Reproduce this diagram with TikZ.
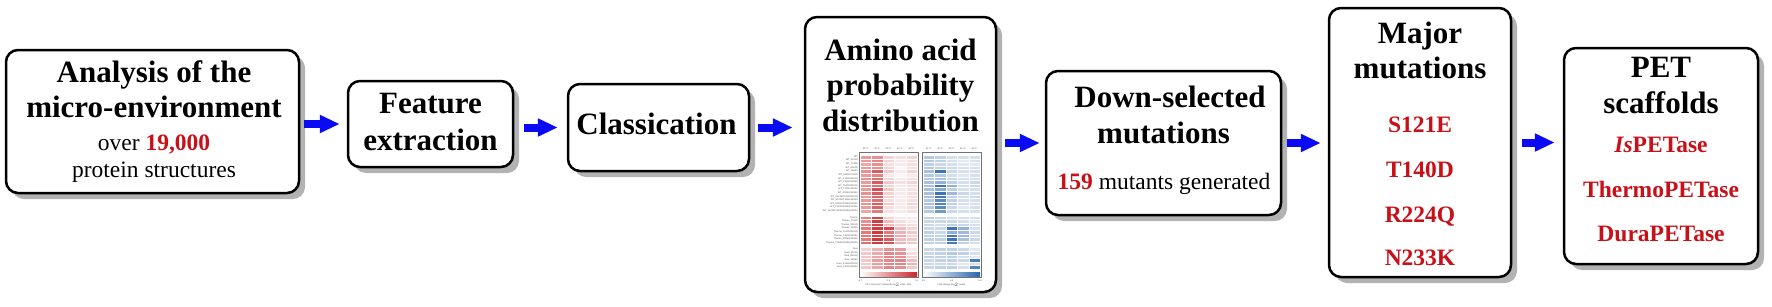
\documentclass[tikz,border=0pt]{standalone}
\usepackage{fontspec}
\setmainfont{Liberation Serif}
\newfontfamily\hmfont{Liberation Sans}
\usetikzlibrary{shadows,arrows.meta}
\definecolor{txtred}{RGB}{200,16,24}
\definecolor{arrblue}{RGB}{10,10,245}
\definecolor{hmred}{RGB}{205,35,40}
\definecolor{hmblue}{RGB}{40,100,175}
\newcommand\bigfont{\fontsize{31}{35}\selectfont\bfseries}
\newcommand\smfont{\fontsize{23.5}{27}\selectfont}
\newcommand\tinyfont{\hmfont\fontsize{2.3}{2.6}\selectfont}
\begin{document}
\begin{tikzpicture}[x=1pt,y=-1pt,
 box/.style={draw=black, line width=2.5pt, rounded corners=12pt, fill=white,
   drop shadow={shadow xshift=6pt, shadow yshift=-6pt, fill=black!30, opacity=1}},
 hd/.style={anchor=base, inner sep=0pt, font=\bigfont},
 sm/.style={anchor=base, inner sep=0pt, font=\smfont},
 rd/.style={anchor=base, inner sep=0pt, font=\smfont\bfseries, text=txtred},
 flow/.style={draw=arrblue, line width=8pt, -{Triangle[length=20pt,width=17pt]}},
 hmtext/.style={inner sep=0pt, font=\tinyfont, text=black!70},
 ]
\useasboundingbox (0,0) rectangle (1772,306);

% boxes
\node[box, minimum width=293pt, minimum height=143pt] (b1) at (152.5,121.5) {};
\node[box, minimum width=165pt, minimum height=86pt] (b2) at (430.5,124) {};
\node[box, minimum width=181pt, minimum height=87pt] (b3) at (658.5,127.5) {};
\node[box, minimum width=191pt, minimum height=275pt] (b4) at (900.5,154.5) {};
\node[box, minimum width=235pt, minimum height=144pt] (b5) at (1163.5,143) {};
\node[box, minimum width=182pt, minimum height=269pt] (b6) at (1420,142.5) {};
\node[box, minimum width=194pt, minimum height=216pt] (b7) at (1661,156) {};

% box 1
\node[hd] (b1t1) at (154,82) {Analysis of the};
\node[hd] (b1t2) at (154,117.5) {micro-environment};
\node[sm] (b1t3) at (154,150) {over \textcolor{txtred}{\bfseries 19,000}};
\node[sm] (b1t4) at (154,177) {protein structures};
% box 2
\node[hd] (b2t1) at (430.5,113) {Feature};
\node[hd] (b2t2) at (430.5,150) {extraction};
% box 3
\node[hd] (b3t1) at (656.5,134) {Classication};
% box 4
\node[hd] (b4t1) at (900.5,60) {Amino acid};
\node[hd] (b4t2) at (900.5,95) {probability};
\node[hd] (b4t3) at (900.5,131) {distribution};
% box 5
\node[hd] (b5t1) at (1170,107) {Down-selected};
\node[hd] (b5t2) at (1163.5,143) {mutations};
\node[sm] (b5t3) at (1164,189) {\textcolor{txtred}{\bfseries 159} mutants generated};
% box 6
\node[hd] (b6t1) at (1420,43) {Major};
\node[hd] (b6t2) at (1420,78) {mutations};
\node[rd] (b6m1) at (1420,132) {S121E};
\node[rd] (b6m2) at (1420,177) {T140D};
\node[rd] (b6m3) at (1420,222) {R224Q};
\node[rd] (b6m4) at (1420,265) {N233K};
% box 7
\node[hd] (b7t1) at (1661,77) {PET};
\node[hd] (b7t2) at (1661,113) {scaffolds};
\node[rd] (b7s1) at (1661,152) {\textit{Is}PETase};
\node[rd] (b7s2) at (1661,197) {ThermoPETase};
\node[rd] (b7s3) at (1661,241) {DuraPETase};

% heatmap
\foreach \row [count=\i] in {
 {45,50,20,15,20},{45,55,20,10,15},{40,50,15,10,15},{45,50,20,5,15},
 {50,75,25,10,20},{45,55,10,5,10},{50,65,20,10,15},{45,75,25,15,20},
 {50,65,20,10,15},{45,80,25,10,15},{50,75,20,10,15},{45,70,20,10,15},
 {45,65,15,10,15},{50,75,25,10,20},{45,70,15,10,15},{40,60,15,10,15},
 {55,85,20,10,10},{50,90,30,15,10},{55,85,30,20,15},{60,90,85,30,20},
 {60,90,60,35,25},{60,85,65,40,20},{60,90,75,30,25},{65,90,80,35,25},
 {20,35,50,45,10},{25,40,55,50,15},{25,40,55,50,20},{25,45,55,55,30},
 {25,45,55,55,35},{25,40,55,50,25}} {
  \pgfmathsetmacro\yy{155+(\i-1)*3.6+3*(\i>16)+3*(\i>24)}
  \foreach \v [count=\j] in \row {
    \fill[hmred!\v!white, draw=white, line width=0.08pt]
      ({860+(\j-1)*11.4},\yy) rectangle ++(11.4,3.6);
  }
}
\foreach \row [count=\i] in {
 {35,30,20,20,20},{35,30,20,15,20},{30,25,20,15,15},{35,30,25,20,20},
 {40,90,25,20,20},{35,35,20,15,20},{35,40,25,20,20},{40,50,30,20,25},
 {40,90,50,20,25},{40,55,30,20,20},{40,90,45,25,20},{40,85,30,20,25},
 {35,75,30,20,20},{40,80,30,20,20},{35,75,25,15,20},{35,65,25,20,20},
 {30,25,20,20,20},{25,25,25,20,15},{25,20,30,25,20},{25,25,90,50,20},
 {30,25,50,45,25},{30,30,85,45,20},{30,30,90,40,25},{30,30,85,30,20},
 {25,30,30,25,15},{25,30,35,30,20},{30,30,30,20,15},{25,30,30,25,85},
 {25,25,25,15,20},{25,30,30,20,80}} {
  \pgfmathsetmacro\yy{155+(\i-1)*3.6+3*(\i>16)+3*(\i>24)}
  \foreach \v [count=\j] in \row {
    \fill[hmblue!\v!white, draw=white, line width=0.08pt]
      ({923+(\j-1)*11.4},\yy) rectangle ++(11.4,3.6);
  }
}
\foreach \lab [count=\i] in {WT,WT\_S121E,WT\_T140D,WT\_R224Q,WT\_N233K,
 WT\_S121E/T140D,WT\_S121E/R224Q,WT\_S121E/N233K,WT\_T140D/R224Q,
 WT\_T140D/N233K,WT\_R224Q/N233K,WT\_S121E/T140D/R224Q,WT\_S121E/T140D/N233K,
 WT\_S121E/R224Q/N233K,WT\_T140D/R224Q/N233K,WT\_S121E/T140D/R224Q/N233K,
 Thermo,Thermo\_T140D,Thermo\_R224Q,Thermo\_N233K,Thermo\_T140D/R224Q,
 Thermo\_T140D/N233K,Thermo\_R224Q/N233K,Thermo\_T140D/R224Q/N233K,
 Dura,Dura\_S121E,Dura\_R224Q,Dura\_N233K,Dura\_S121E/R224Q,Dura\_S121E/N233K} {
  \pgfmathsetmacro\yy{155+(\i-1)*3.6+3*(\i>16)+3*(\i>24)+1.8}
  \node[hmtext, anchor=east] (hl\i) at (858,\yy) {\lab};
}
\foreach \t [count=\j] in {30,40,50,60,65} {
  \node[hmtext] (hr\j) at ({865.7+(\j-1)*11.4},149) {\t\,°C};
  \node[hmtext] (hb\j) at ({928.7+(\j-1)*11.4},149) {\t\,°C};
}
\draw[black!55, line width=0.4pt] (859,152.5) rectangle (918,277.5);
\draw[black!55, line width=0.4pt] (922,152.5) rectangle (981,277.5);
\shade[left color=white, right color=hmred] (860,272) rectangle (917,276.5);
\shade[left color=white, right color=hmblue] (923,272) rectangle (980,276.5);
\node[hmtext] (rt1) at (860,280.5) {-4.7};
\node[hmtext] (rt2) at (888.5,280.5) {0.2};
\node[hmtext] (rt3) at (917,280.5) {5.1};
\node[hmtext] (bt1) at (923,280.5) {-2.9};
\node[hmtext] (bt2) at (951.5,280.5) {1.4};
\node[hmtext] (bt3) at (980,280.5) {5.6};
\node[hmtext] (rcap) at (888.5,285) {PET monomers released (log$_2$ scale, mM)};
\node[hmtext] (bcap) at (951.5,285) {Fold change (log$_2$ scale)};

% arrows
\draw[flow, shorten <=4pt, shorten >=7pt] (b1.east |- b2.west) -- (b2.west);
\draw[flow, shorten <=10pt, shorten >=9pt] (b2.east |- b3.west) -- (b3.west);
\draw[flow, shorten <=8pt, shorten >=11pt] (b3.east) -- (b3.east -| b4.west);
\draw[flow, shorten <=8pt, shorten >=5pt] (b4.east |- b5.west) -- (b5.west);
\draw[flow, shorten <=5pt, shorten >=7pt] (b5.east) -- (b5.east -| b6.west);
\draw[flow, shorten <=10pt, shorten >=8pt] (b6.east) -- (b6.east -| b7.west);
\end{tikzpicture}
\end{document}
